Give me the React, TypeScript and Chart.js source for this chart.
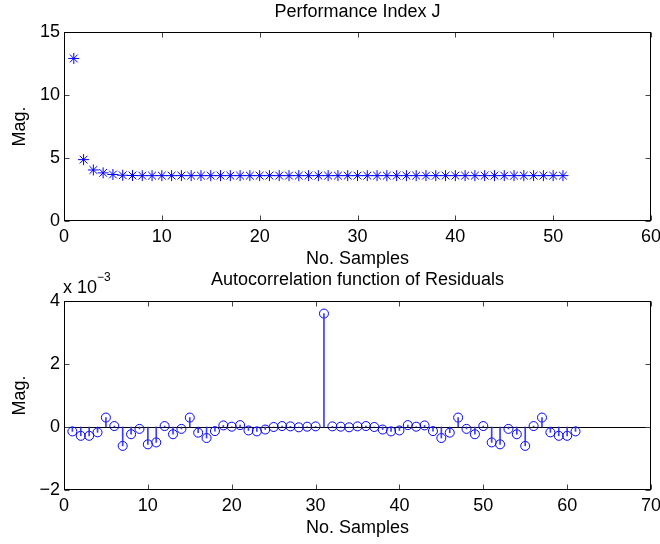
import React, { useEffect, useRef } from 'react';
import { Chart, registerables } from 'chart.js';

Chart.register(...registerables);

const FONT = '"Liberation Sans", Arial, Helvetica, sans-serif';
const BLUE = '#0000ff';

// Top panel: performance index J per sample (1..51)
const jTitle = 'Performance Index J';
const jValues = [
  12.9, 4.87, 4.05, 3.82, 3.69, 3.63, 3.61, 3.6, 3.6, 3.6,
  3.6, 3.6, 3.6, 3.6, 3.6, 3.6, 3.6, 3.6, 3.6, 3.6,
  3.6, 3.6, 3.6, 3.6, 3.6, 3.6, 3.6, 3.6, 3.6, 3.6,
  3.6, 3.6, 3.6, 3.6, 3.6, 3.6, 3.6, 3.6, 3.6, 3.6,
  3.6, 3.6, 3.6, 3.6, 3.6, 3.6, 3.6, 3.6, 3.6, 3.6,
  3.6,
];
const jXTicks = [0, 10, 20, 30, 40, 50, 60];
const jYTicks = [0, 5, 10, 15];

// Bottom panel: autocorrelation of residuals (values in units of 1e-3), samples 1..61
const acfTitle = 'Autocorrelation function of Residuals';
const acfValuesE3 = [
  -0.14, -0.28, -0.28, -0.17, 0.30, 0.03, -0.60, -0.23, -0.06, -0.55,
  -0.49, 0.03, -0.23, -0.06, 0.30, -0.18, -0.35, -0.13, 0.05, 0.01,
  0.06, -0.11, -0.14, -0.08, 0.00, 0.03, 0.02, -0.01, 0.01, 0.02,
  3.6,
  0.02, 0.01, -0.01, 0.02, 0.03, 0.00, -0.08, -0.14, -0.11, 0.06,
  0.01, 0.05, -0.13, -0.35, -0.18, 0.30, -0.06, -0.23, 0.03, -0.49,
  -0.55, -0.06, -0.23, -0.60, 0.03, 0.30, -0.17, -0.28, -0.28, -0.14,
];
const acfXTicks = [0, 10, 20, 30, 40, 50, 60, 70];
const acfYTicks = [-2, 0, 2, 4];

const xLabel = 'No. Samples';
const yLabel = 'Mag.';

const fmt = (v: number) => (v < 0 ? '\u2212' + Math.abs(v) : String(v));

function makeFramePlugin(opts: { title: string; titleY: number; zeroLine?: boolean; exponent?: boolean }) {
  return {
    id: 'frameAndText',
    beforeDatasetsDraw(chart: any) {
      if (!opts.zeroLine) return;
      const { ctx, chartArea: a, scales } = chart;
      const y0 = Math.round(scales.y.getPixelForValue(0)) + 0.5;
      ctx.save();
      ctx.strokeStyle = '#000';
      ctx.lineWidth = 1;
      ctx.beginPath();
      ctx.moveTo(a.left, y0);
      ctx.lineTo(a.right, y0);
      ctx.stroke();
      ctx.restore();
    },
    afterDraw(chart: any) {
      const { ctx, chartArea: a, scales } = chart;
      ctx.save();
      const L = Math.round(a.left) + 0.5;
      const R = Math.round(a.right) - 0.5;
      const T = Math.round(a.top) + 0.5;
      const B = Math.round(a.bottom) - 0.5;
      const tl = 5;
      ctx.strokeStyle = '#444';
      ctx.lineWidth = 1;
      ctx.beginPath();
      for (const t of scales.x.ticks) {
        const x = Math.round(scales.x.getPixelForValue(t.value)) + 0.5;
        ctx.moveTo(x, B);
        ctx.lineTo(x, B - tl);
        ctx.moveTo(x, T);
        ctx.lineTo(x, T + tl);
      }
      for (const t of scales.y.ticks) {
        const y = Math.round(scales.y.getPixelForValue(t.value)) + 0.5;
        ctx.moveTo(L, y);
        ctx.lineTo(L + tl, y);
        ctx.moveTo(R, y);
        ctx.lineTo(R - tl, y);
      }
      ctx.stroke();
      ctx.strokeStyle = '#000';
      ctx.strokeRect(L, T, R - L, B - T);

      ctx.fillStyle = '#000';
      ctx.font = `18px ${FONT}`;
      ctx.textAlign = 'center';
      ctx.textBaseline = 'alphabetic';
      ctx.fillText(opts.title, (a.left + a.right) / 2, opts.titleY);

      if (opts.exponent) {
        ctx.textAlign = 'left';
        ctx.font = `18px ${FONT}`;
        ctx.fillText('x 10', a.left - 1, 21);
        const w = ctx.measureText('x 10').width;
        ctx.font = `12px ${FONT}`;
        ctx.fillText('\u22123', a.left - 1 + w, 9);
      }
      ctx.restore();
    },
  };
}

function axisFont() {
  return { family: FONT, size: 18 };
}

function fitX(h: number) {
  return (s: any) => {
    s.height = h;
    s.paddingLeft = 0;
    s.paddingRight = 0;
  };
}

function TopChart() {
  const ref = useRef<HTMLCanvasElement>(null);
  useEffect(() => {
    if (!ref.current) return;
    const H = 272;
    const chart = new Chart(ref.current, {
      type: 'scatter',
      data: {
        datasets: [
          {
            data: jValues.map((v, i) => ({ x: i + 1, y: v })),
            pointStyle: 'star',
            pointRadius: 5.5,
            borderColor: BLUE,
            backgroundColor: BLUE,
            pointBorderWidth: 1,
            showLine: false,
          },
        ],
      },
      options: {
        responsive: false,
        animation: false,
        devicePixelRatio: 1,
        events: [],
        layout: { padding: { top: 32, right: 9, left: 0, bottom: 0 } },
        plugins: { legend: { display: false }, tooltip: { enabled: false } },
        scales: {
          x: {
            type: 'linear',
            min: 0,
            max: 60,
            offset: false,
            afterBuildTicks: (s: any) => { s.ticks = jXTicks.map((v) => ({ value: v })); },
            afterFit: fitX(H - 221),
            grid: { display: false, drawTicks: false },
            border: { display: false },
            ticks: { color: '#000', font: axisFont(), padding: 5, maxRotation: 0, autoSkip: false, callback: (v: any) => fmt(Number(v)) },
            title: { display: true, text: xLabel, color: '#000', font: axisFont(), padding: { top: 0, bottom: 2 } },
          },
          y: {
            type: 'linear',
            min: 0,
            max: 15,
            afterBuildTicks: (s: any) => { s.ticks = jYTicks.map((v) => ({ value: v })); },
            afterFit: (s: any) => { s.width = 64; s.paddingTop = 0; s.paddingBottom = 0; },
            grid: { display: false, drawTicks: false },
            border: { display: false },
            ticks: { color: '#000', font: axisFont(), padding: 4, autoSkip: false, callback: (v: any) => fmt(Number(v)) },
            title: { display: true, text: yLabel, color: '#000', font: axisFont(), padding: { top: 9, bottom: 0 } },
          },
        },
      },
      plugins: [makeFramePlugin({ title: jTitle, titleY: 17 })],
    } as any);
    return () => chart.destroy();
  }, []);
  return <canvas ref={ref} width={660} height={272} style={{ display: 'block', width: 660, height: 272 }} />;
}

function BottomChart() {
  const ref = useRef<HTMLCanvasElement>(null);
  useEffect(() => {
    if (!ref.current) return;
    const H = 272;
    const pts = acfValuesE3.map((v, i) => ({ x: i + 1, y: v }));
    const chart = new Chart(ref.current, {
      type: 'scatter',
      data: {
        datasets: [
          {
            type: 'bar',
            data: pts,
            backgroundColor: 'rgba(40,40,255,0.9)',
            borderWidth: 0,
            barThickness: 1,
          },
          {
            type: 'scatter',
            data: pts,
            pointStyle: 'circle',
            pointRadius: 4.5,
            borderColor: BLUE,
            backgroundColor: 'rgba(0,0,0,0)',
            pointBorderWidth: 1,
            showLine: false,
          },
        ],
      },
      options: {
        responsive: false,
        animation: false,
        devicePixelRatio: 1,
        events: [],
        layout: { padding: { top: 29, right: 9, left: 0, bottom: 0 } },
        plugins: { legend: { display: false }, tooltip: { enabled: false } },
        scales: {
          x: {
            type: 'linear',
            min: 0,
            max: 70,
            offset: false,
            afterBuildTicks: (s: any) => { s.ticks = acfXTicks.map((v) => ({ value: v })); },
            afterFit: fitX(H - 218),
            grid: { display: false, drawTicks: false, offset: false },
            border: { display: false },
            ticks: { color: '#000', font: axisFont(), padding: 5, maxRotation: 0, autoSkip: false, callback: (v: any) => fmt(Number(v)) },
            title: { display: true, text: xLabel, color: '#000', font: axisFont(), padding: { top: 0, bottom: 5 } },
          },
          y: {
            type: 'linear',
            min: -2,
            max: 4,
            afterBuildTicks: (s: any) => { s.ticks = acfYTicks.map((v) => ({ value: v })); },
            afterFit: (s: any) => { s.width = 64; s.paddingTop = 0; s.paddingBottom = 0; },
            grid: { display: false, drawTicks: false },
            border: { display: false },
            ticks: { color: '#000', font: axisFont(), padding: 4, autoSkip: false, callback: (v: any) => fmt(Number(v)) },
            title: { display: true, text: yLabel, color: '#000', font: axisFont(), padding: { top: 9, bottom: 0 } },
          },
        },
      },
      plugins: [makeFramePlugin({ title: acfTitle, titleY: 13, zeroLine: true, exponent: true })],
    } as any);
    return () => chart.destroy();
  }, []);
  return <canvas ref={ref} width={660} height={272} style={{ display: 'block', width: 660, height: 272 }} />;
}

export default function App() {
  return (
    <div style={{ position: 'absolute', left: 0, top: 0, width: 660, height: 544, background: '#fff' }}>
      <TopChart />
      <BottomChart />
    </div>
  );
}
